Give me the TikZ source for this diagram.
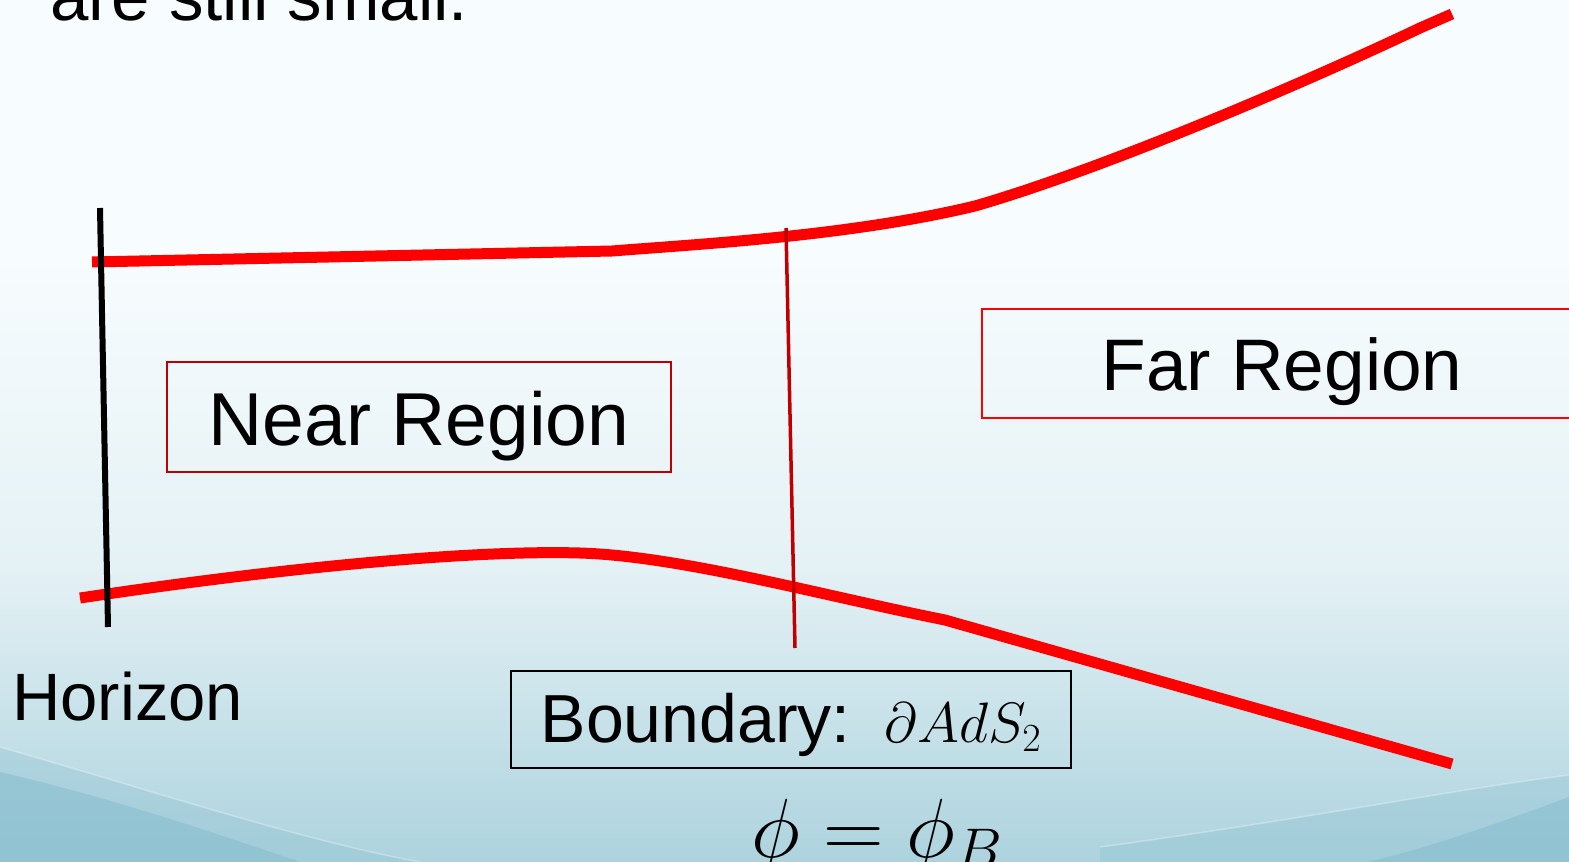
\RequirePackage{fix-cm}
\documentclass[tikz,border=0pt]{standalone}
\usepackage{fontspec}
\setmainfont{Liberation Sans}
\definecolor{bgtop}{HTML}{F7FCFE}
\definecolor{bgmid}{HTML}{E4F1F5}
\definecolor{bgbot}{HTML}{ADD3DE}
\definecolor{swoosh}{HTML}{86BDCE}
\definecolor{darkred}{HTML}{C00000}
\pgfdeclareverticalshading{bgshade}{100bp}{color(0bp)=(bgbot); color(25bp)=(bgbot); color(42bp)=(bgmid); color(60bp)=(bgtop); color(75bp)=(bgtop); color(100bp)=(bgtop)}
\begin{document}
\begin{tikzpicture}[x=1pt,y=-1pt,
  redcurve/.style={draw=red, line width=11pt},
  horizonline/.style={draw=black, line width=6pt},
  bdline/.style={draw=darkred, line width=3.5pt},
  label/.style={inner sep=0pt, font=\fontsize{67}{70}\selectfont},
  regionbox/.style={draw, line width=2.2pt, inner sep=0pt, font=\fontsize{75}{80}\selectfont},
  swooshline/.style={draw=white, opacity=0.3, line width=1.5pt}]
\useasboundingbox (0,0) rectangle (1569,862);
% background
\shade[shading=bgshade] (0,0) rectangle (1569,862);
\fill[swoosh, opacity=0.55] (0,772) .. controls (120,800) and (220,835) .. (300,862) -- (0,862) -- cycle;
\fill[swoosh, opacity=0.3] (0,747) .. controls (150,790) and (300,840) .. (420,862) -- (0,862) -- cycle;
\draw[swooshline] (0,747) .. controls (150,790) and (300,840) .. (420,862);
\fill[swoosh, opacity=0.55] (1569,797) .. controls (1480,830) and (1420,850) .. (1367,862) -- (1569,862) -- cycle;
\fill[swoosh, opacity=0.3] (1100,847) .. controls (1300,820) and (1450,790) .. (1569,775) -- (1569,862) -- (1100,862) -- cycle;
\draw[swooshline] (1100,847) .. controls (1300,820) and (1450,790) .. (1569,775);
% title fragment
\node[label, anchor=base west, font=\fontsize{69}{72}\selectfont] (title) at (50,20) {are still small.};
% curves
\draw[redcurve] (92,262) -- (612,251) .. controls (700,244) and (850,236) .. (975,206) .. controls (1100,170) and (1300,85) .. (1420,28) -- (1452,14);
\draw[redcurve] (80,598) .. controls (300,565) and (480,550) .. (580,553) .. controls (680,556) and (820,595) .. (945,620) -- (1452,764);
\coordinate (hz1) at (100,208);
\coordinate (hz2) at (108,627);
\draw[horizonline] (hz1) -- (hz2);
\coordinate (bd1) at (786,228);
\coordinate (bd2) at (795,648);
\draw[bdline] (bd1) -- (bd2);
% boxes
\node[regionbox, draw=darkred, minimum width=504pt, minimum height=110pt, text height=60pt, text depth=4pt] (near) at (419,417) {Near Region};
\node[regionbox, draw=red, minimum width=600pt, minimum height=109pt, text height=57pt, text depth=4pt, font=\fontsize{73}{78}\selectfont] (far) at (1282,363.5) {Far Region};
\node[regionbox, draw=black, minimum width=560pt, minimum height=97pt, text height=51pt, text depth=5pt, font=\fontsize{68}{72}\selectfont] (bdry) at (791,719.5) {Boundary:\hspace{34pt}{\fontsize{57}{60}\selectfont$\partial AdS_2$}};
\node[label, anchor=base west] (horizon) at (12,720) {Horizon};
\node[label, anchor=base, font=\fontsize{84}{90}\selectfont] (phi) at (877,857) {$\phi=\phi_B$};
\end{tikzpicture}
\end{document}
